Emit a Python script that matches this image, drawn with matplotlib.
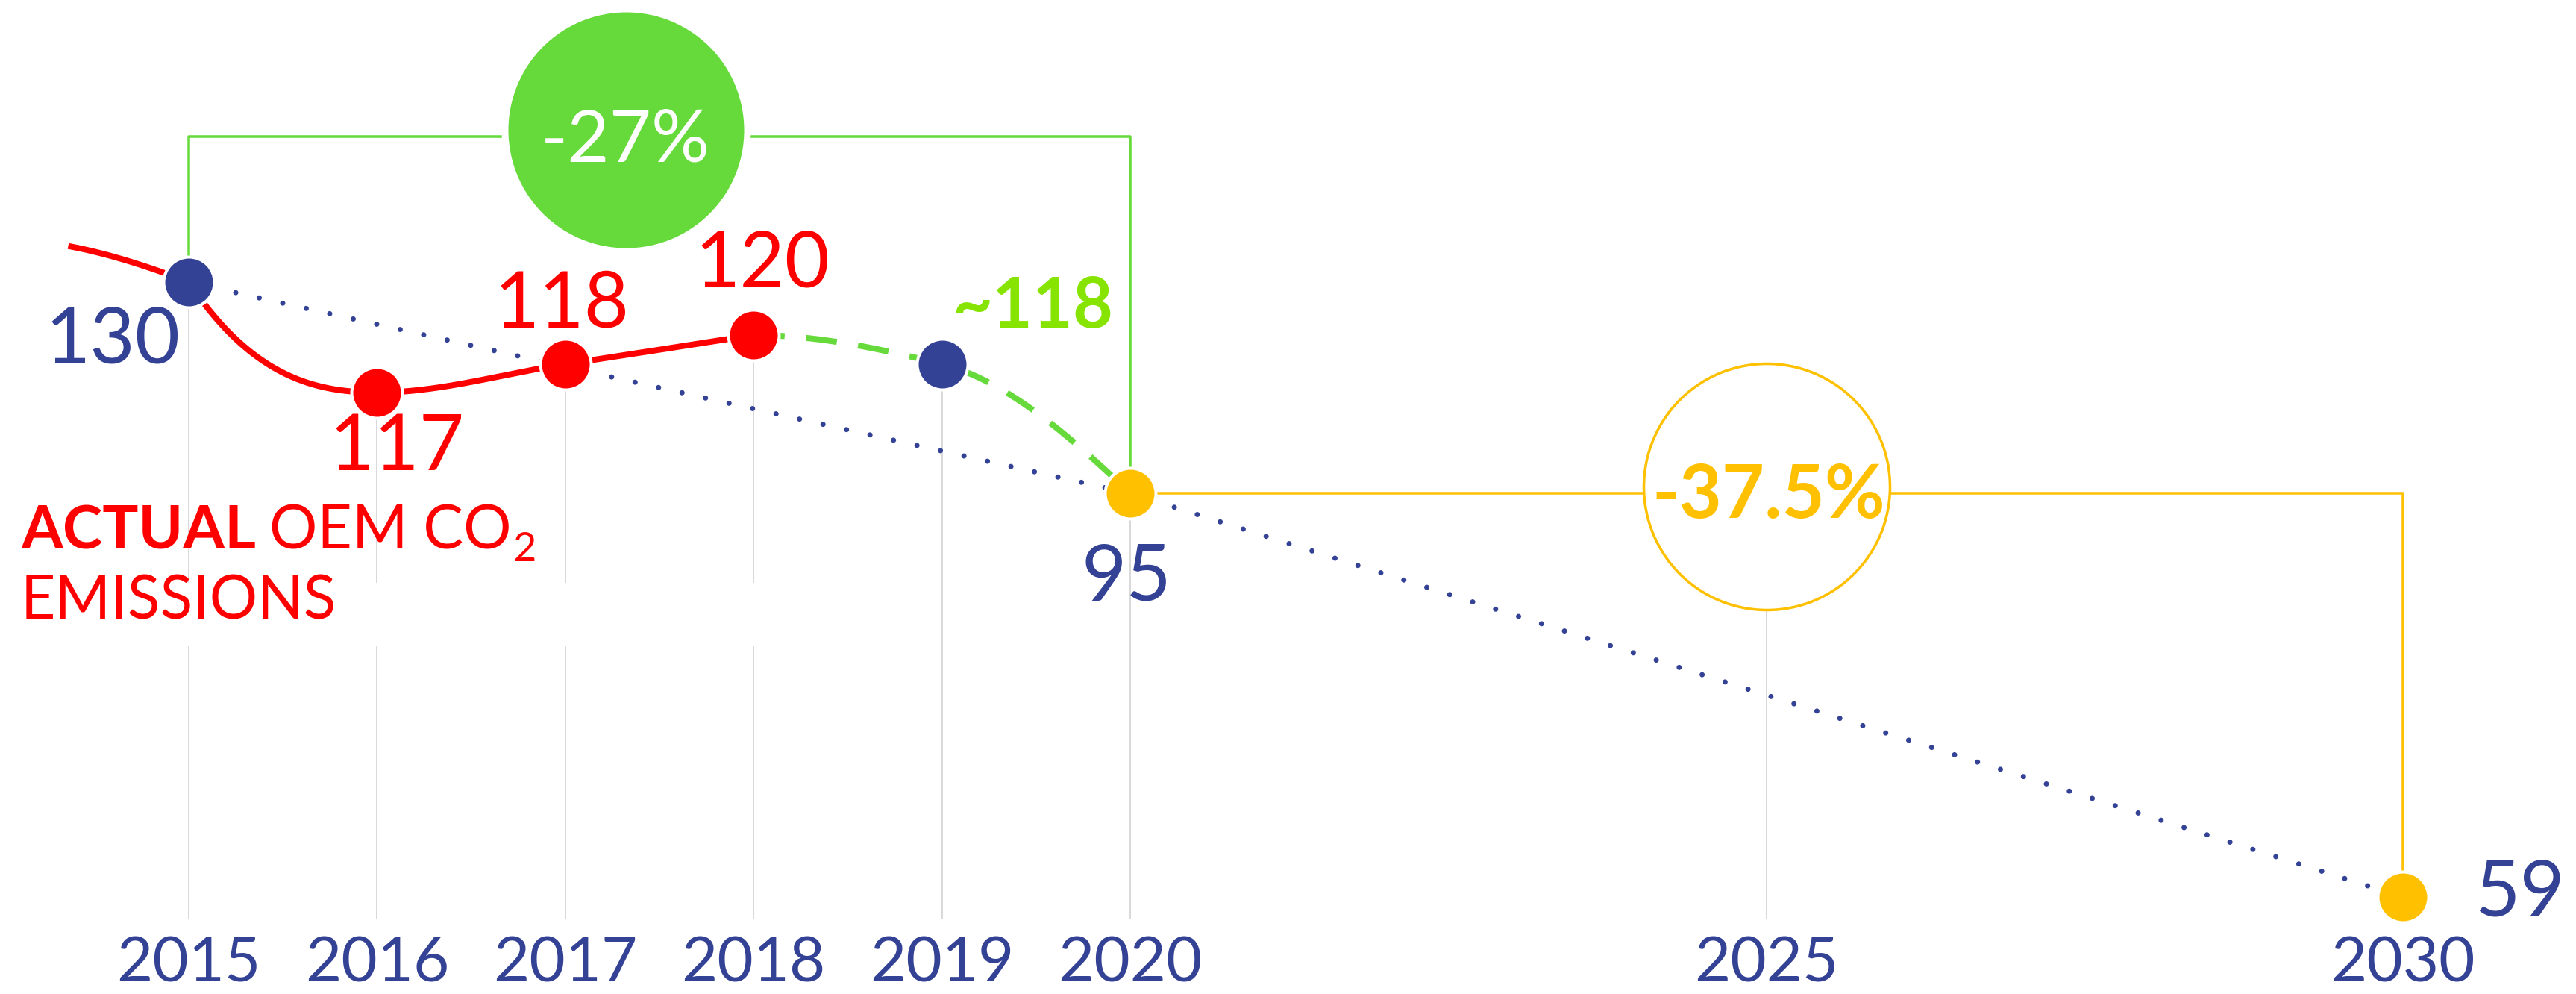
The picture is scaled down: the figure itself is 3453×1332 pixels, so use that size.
"""OEM CO2 fleet emissions: actual vs targets 2015-2030 (recreated infographic)."""
import numpy as np
import matplotlib

matplotlib.use("Agg")
import matplotlib.pyplot as plt  # noqa: E402
from matplotlib.patches import Rectangle  # noqa: E402

W, H, DPI = 3453, 1332, 100
PX = 72 / DPI  # points per pixel

BLUE = "#344296"
RED = "#ff0000"
GREEN = "#66da3a"
LIME = "#86e400"
YELLOW = "#ffc000"
GRAY = "#d9d9d9"

# ---- data ----
AXIS_YEARS = [2015, 2016, 2017, 2018, 2019, 2020, 2025, 2030]
TARGET_YEARS = [2015, 2020, 2030]
TARGET_VALUES = [130, 95, 59]
ACTUAL_YEARS = [2016, 2017, 2018]
ACTUAL_VALUES = [117, 118, 120]
ESTIMATE_YEARS = [2018, 2019, 2020]
ESTIMATE_VALUES = [120, 118, 95]
LEAD_IN_YEAR, LEAD_IN_VALUE = 2014.36, 136.8  # red curve enters from before 2015
BADGE_GREEN = (2017.32, 158.7, "-27%")
BADGE_YELLOW = (2025, 96.5, "-37.5%")
GREEN_BRACKET = 157.5

# ---- hand-drawn spacing of the original, as piecewise scales (value -> pixel) ----
X_YR = [1990, 2015, 2020, 2030, 2060]
X_PX = [253 - 25 * 252.4, 253, 1515, 3221, 3221 + 30 * 170.6]
Y_VAL = [0, 59, 95, 117, 118, 120, 130, 300]
Y_PX = [130 - 59 * 15.03, 130, 671, 806, 844, 883, 954, 954 + 170 * 7.1]


def fx(v):
    return np.interp(v, X_YR, X_PX)


def fx_inv(p):
    return np.interp(p, X_PX, X_YR)


def fy(v):
    return np.interp(v, Y_VAL, Y_PX)


def fy_inv(p):
    return np.interp(p, Y_PX, Y_VAL)


def pchip_path(xs, ys, right_slope=None, n=300):
    """Monotone cubic through the points in display space.
    right_slope {i: m} overrides the outgoing tangent at point i (kink hidden under a dot)."""
    x = fx(np.asarray(xs, float))
    y = fy(np.asarray(ys, float))
    h = np.diff(x)
    d = np.diff(y) / h
    m = np.zeros_like(x)
    for k in range(1, len(x) - 1):
        if d[k - 1] * d[k] > 0:
            w1, w2 = 2 * h[k] + h[k - 1], h[k] + 2 * h[k - 1]
            m[k] = (w1 + w2) / (w1 / d[k - 1] + w2 / d[k])
    for i, (j0, j1) in enumerate([(0, 1), (-1, -2)]):
        e = ((2 * h[j0] + h[j1]) * d[j0] - h[j0] * d[j1]) / (h[j0] + h[j1])
        if np.sign(e) != np.sign(d[j0]):
            e = 0.0
        elif np.sign(d[j0]) != np.sign(d[j1]) and abs(e) > abs(3 * d[j0]):
            e = 3 * d[j0]
        m[0 if i == 0 else -1] = e
    right_slope = right_slope or {}
    px, py = [], []
    t = np.linspace(0, 1, n)
    h00 = 2 * t**3 - 3 * t**2 + 1
    h10 = t**3 - 2 * t**2 + t
    h01 = -2 * t**3 + 3 * t**2
    h11 = t**3 - t**2
    for k in range(len(x) - 1):
        m0 = right_slope.get(k, m[k])
        px.append(x[k] + t * h[k])
        py.append(h00 * y[k] + h10 * h[k] * m0 + h01 * y[k + 1] + h11 * h[k] * m[k + 1])
    return fx_inv(np.concatenate(px)), fy_inv(np.concatenate(py))


plt.rcParams["font.family"] = ["Lato", "DejaVu Sans"]

fig = plt.figure(figsize=(W / DPI, H / DPI), dpi=DPI)
ax = fig.add_axes([0, 0, 1, 1])
ax.set_xscale("function", functions=(fx, fx_inv))
ax.set_yscale("function", functions=(fy, fy_inv))
ax.set_xlim(fx_inv(0), fx_inv(W))
ax.set_ylim(fy_inv(0), fy_inv(H))
ax.axis("off")

# gray year guides
point_at = dict(zip(TARGET_YEARS, TARGET_VALUES))
point_at.update(zip(ACTUAL_YEARS, ACTUAL_VALUES))
point_at.update(zip(ESTIMATE_YEARS, ESTIMATE_VALUES))
point_at[BADGE_YELLOW[0]] = BADGE_YELLOW[1]
grid_bottom = fy_inv(101)
for yr in AXIS_YEARS:
    ax.plot([yr, yr], [grid_bottom, point_at[yr]], color=GRAY, lw=2 * PX, zorder=1)
ax.add_patch(Rectangle((0, (H - 866) / H), 1100 / W, 85 / H, transform=ax.transAxes,
                       facecolor="white", edgecolor="none", zorder=1.5))

# brackets
ax.plot([TARGET_YEARS[0], TARGET_YEARS[0], TARGET_YEARS[1], TARGET_YEARS[1]],
        [TARGET_VALUES[0], GREEN_BRACKET, GREEN_BRACKET, TARGET_VALUES[1]],
        color=GREEN, lw=3.5 * PX, zorder=2)
ax.plot([TARGET_YEARS[1], TARGET_YEARS[2], TARGET_YEARS[2]],
        [TARGET_VALUES[1], TARGET_VALUES[1], TARGET_VALUES[2]],
        color=YELLOW, lw=3.5 * PX, zorder=2)

# target trajectory (dotted)
ax.plot(TARGET_YEARS, TARGET_VALUES, color=BLUE, lw=7 * PX, linestyle=(0, (0.01, 4.6)),
        dash_capstyle="round", zorder=2.5)

# actual emissions (red) and estimate (green dashed)
rx, ry = pchip_path([LEAD_IN_YEAR, TARGET_YEARS[0]] + ACTUAL_YEARS,
                    [LEAD_IN_VALUE, TARGET_VALUES[0]] + ACTUAL_VALUES,
                    right_slope={1: -1.5})
ax.plot(rx, ry, color=RED, lw=8 * PX, solid_capstyle="butt", zorder=3)
gx, gy = pchip_path(ESTIMATE_YEARS, ESTIMATE_VALUES)
ax.plot(gx, gy, color=GREEN, lw=8 * PX, linestyle=(0, (5.2, 3.6)), zorder=3)

# badges
ax.plot(BADGE_GREEN[0], BADGE_GREEN[1], "o", ms=325 * PX, color=GREEN,
        mec="white", mew=9 * PX, zorder=4)
ax.annotate(BADGE_GREEN[2], (BADGE_GREEN[0], BADGE_GREEN[1]), xytext=(0, -42),
            textcoords="offset pixels", ha="center", va="baseline",
            color="white", fontsize=70, zorder=6)
ax.plot(BADGE_YELLOW[0], BADGE_YELLOW[1], "o", ms=330 * PX, mfc="white",
        mec=YELLOW, mew=3.5 * PX, zorder=4)
ax.annotate(BADGE_YELLOW[2], (BADGE_YELLOW[0], BADGE_YELLOW[1]), xytext=(3, -42),
            textcoords="offset pixels", ha="center", va="baseline",
            color=YELLOW, fontsize=71, fontweight="bold", zorder=6)

# dots
dot = dict(ms=68 * PX, mec="white", mew=4 * PX, linestyle="none", zorder=5)
ax.plot(ACTUAL_YEARS, ACTUAL_VALUES, "o", color=RED, **dot)
ax.plot([TARGET_YEARS[0], ESTIMATE_YEARS[1]], [TARGET_VALUES[0], ESTIMATE_VALUES[1]],
        "o", color=BLUE, **dot)
ax.plot(TARGET_YEARS[1:], TARGET_VALUES[1:], "o", color=YELLOW, **dot)

# value labels
labels = [
    (TARGET_YEARS[0], TARGET_VALUES[0], "130", BLUE, "right", -11, -109, "normal"),
    (ACTUAL_YEARS[0], ACTUAL_VALUES[0], "117", RED, "center", 27, -104, "normal"),
    (ACTUAL_YEARS[1], ACTUAL_VALUES[1], "118", RED, "center", -5, 49, "normal"),
    (ACTUAL_YEARS[2], ACTUAL_VALUES[2], "120", RED, "center", 12, 64, "normal"),
    (ESTIMATE_YEARS[1], ESTIMATE_VALUES[1], "~118", LIME, "center", 122, 49, "bold"),
    (TARGET_YEARS[1], TARGET_VALUES[1], "95", BLUE, "center", -5, -144, "normal"),
    (TARGET_YEARS[2], TARGET_VALUES[2], "59", BLUE, "left", 96, -26, "normal"),
]
for x, y, s, c, ha, dx, dy, fw in labels:
    ax.annotate(s, (x, y), xytext=(dx, dy), textcoords="offset pixels", ha=ha,
                va="baseline", color=c, fontsize=67 if fw == "bold" else 75,
                fontweight=fw, zorder=6)

# year labels
for yr in AXIS_YEARS:
    ax.text(yr, fy_inv(2), str(yr), ha="center", va="bottom", color=BLUE,
            fontsize=60, zorder=6)

# series caption
t1 = ax.text(28 / W, (H - 735) / H, "ACTUAL", transform=ax.transAxes, color=RED,
             fontsize=58, fontweight="bold", va="baseline", zorder=6)
t2 = ax.annotate("OEM CO", xy=(1, 0), xycoords=t1, xytext=(18, 0),
                 textcoords="offset pixels", color=RED, fontsize=58, va="bottom", zorder=6)
ax.annotate("2", xy=(1, 0), xycoords=t2, xytext=(2, -12), textcoords="offset pixels",
            color=RED, fontsize=39, va="bottom", zorder=6)
ax.text(28 / W, (H - 829) / H, "EMISSIONS", transform=ax.transAxes, color=RED,
        fontsize=58, va="baseline", zorder=6)

fig.savefig("out.png", dpi=DPI)
